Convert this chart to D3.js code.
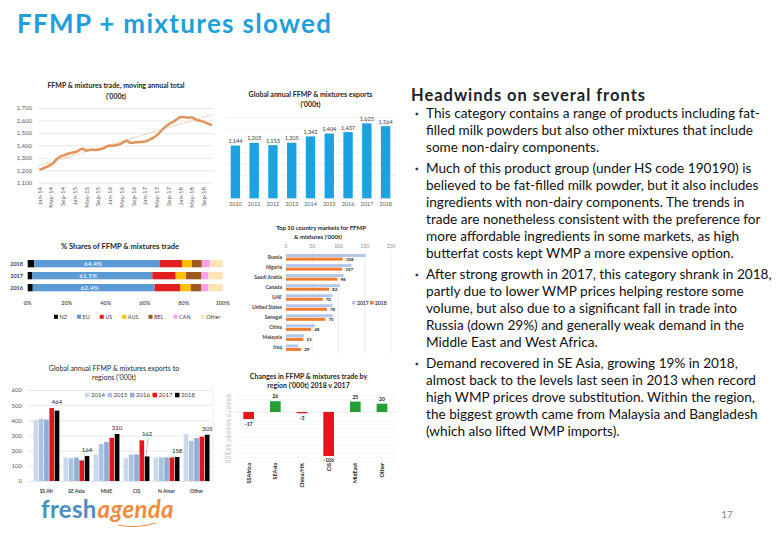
<!DOCTYPE html>
<html><head><meta charset="utf-8">
<script src="https://cdn.jsdelivr.net/npm/d3@7"></script>
<style>body{margin:0;background:#fff}svg{display:block}text{font-family:Lato,"Open Sans",sans-serif}</style>
</head><body><svg id="c" width="780" height="540"></svg>
<script>
// ---------- DATA ----------
const pageTitle = "FFMP + mixtures slowed";
// Chart 1: moving annual total, monthly Jan-14 .. Dec-18 ('000t)
const matStart = "Jan-14";
const matValues = [1205,1212,1222,1232,1245,1262,1290,1308,1318,1326,1334,1340,
  1345,1352,1366,1372,1358,1362,1366,1362,1364,1370,1378,1390,
  1398,1396,1400,1406,1414,1428,1436,1420,1420,1424,1426,1428,
  1430,1438,1450,1462,1478,1500,1525,1548,1566,1580,1594,1610,
  1625,1627,1626,1622,1626,1614,1602,1598,1590,1580,1570,1562];
const matTicks = ["Jan-14","May-14","Sep-14","Jan-15","May-15","Sep-15","Jan-16","May-16","Sep-16","Jan-17","May-17","Sep-17","Jan-18","May-18","Sep-18"];
const matYTicks = [1100,1200,1300,1400,1500,1600,1700];
const trendMonths = ["Jan-14","Dec-18"];
const trendValues = [1238,1646];
// Chart 2: global annual exports
const exportYears = ["2010","2011","2012","2013","2014","2015","2016","2017","2018"];
const exportValues = [1144,1203,1153,1205,1342,1404,1437,1625,1564];
// Chart 3: % shares
const shareYears = ["2018","2017","2016"];
const shareKeys = ["NZ","EU","US","AUS","BEL","CAN","Other"];
const shares2018 = [3.4,64.4,11.3,5.1,5.1,4.1,6.6];
const shares2017 = [2.4,61.5,12.0,5.3,7.9,3.6,7.3];
const shares2016 = [2.6,62.4,13.1,5.5,5.3,3.9,7.2];
const shareTicks = [0,20,40,60,80,100];
// Chart 4: top 10 markets
const topCountries = ["Russia","Nigeria","Saudi Arabia","Canada","UAE","United States","Senegal","China","Malaysia","Iraq"];
const top2017 = [152,125,110,103,89,89,89,55,34,23];
const top2018 = [108,107,98,82,70,78,75,48,33,29];
const topTicks = [0,50,100,150,200];
// Chart 5: exports to regions
const regionCats = ["SS Afr","SE Asia","MidE","CIS","N Amer","Other"];
const regionYears = ["2014","2015","2016","2017","2018"];
const reg2014 = [400,155,175,150,155,310];
const reg2015 = [410,150,245,175,155,265];
const reg2016 = [405,155,258,175,155,283];
const reg2017 = [481,136,285,268,155,292];
const reg2018 = [464,164,310,162,158,305];
const regYTicks = [0,100,200,300,400,500,600];
// Chart 6: changes 2018 v 2017
const changeCats = ["SSAfrica","SEAsia","China/HK","CIS","MidEast","Other"];
const changeValues = [-17,26,-3,-106,25,20];
// Text panel
const panelTitle = "Headwinds on several fronts";
const bullets = [
 ["This category contains a range of products including fat-","filled milk powders but also other mixtures that include","some non-dairy components."],
 ["Much of this product group (under HS code 190190) is","believed to be fat-filled milk powder, but it also includes","ingredients with non-dairy components. The trends in","trade are nonetheless consistent with the preference for","more affordable ingredients in some markets, as high","butterfat costs kept WMP a more expensive option."],
 ["After strong growth in 2017, this category shrank in 2018,","partly due to lower WMP prices helping restore some","volume, but also due to a significant fall in trade into","Russia (down 29%) and generally weak demand in the","Middle East and West Africa."],
 ["Demand recovered in SE Asia, growing 19% in 2018,","almost back to the levels last seen in 2013 when record","high WMP prices drove substitution. Within the region,","the biggest growth came from Malaysia and Bangladesh","(which also lifted WMP imports)."]
];
const pageNumber = "17";

// ---------- DRAW ----------
const svg = d3.select("#c");
function txt(g,x,y,s,o={}){
  return g.append("text").attr("x",x).attr("y",y).text(s)
    .attr("font-size",o.size||6).attr("font-weight",o.weight||400)
    .attr("fill",o.fill||"#404040").attr("text-anchor",o.anchor||"start")
    .attr("font-style",o.style||"normal");
}
function fitWidth(t,w){
  const n = t.text().length;
  const cur = t.node().getComputedTextLength();
  t.attr("letter-spacing",((w-cur)/(n-1)).toFixed(3));
}
const fmt = d3.format(",");
const parseM = d3.timeParse("%b-%y");

fitWidth(txt(svg,17,33,pageTitle,{size:26,weight:700,fill:"#1E9FDB"}),314);

// ---- Chart 1 ----
{
  const g = svg.append("g");
  const start = parseM(matStart);
  const pts = matValues.map((v,i)=>({d:d3.timeMonth.offset(start,i),v}));
  const x = d3.scaleTime().domain([parseM("Jan-14"),parseM("Sep-18")]).range([39.3,203.3]);
  const y = d3.scaleLinear().domain([1100,1700]).range([182.7,108]);
  const ya = g.append("g").attr("transform","translate(38,0)")
    .call(d3.axisLeft(y).tickValues(matYTicks).tickFormat(fmt).tickSize(-175).tickPadding(6));
  ya.select(".domain").remove();
  ya.selectAll("line").attr("stroke","#d9d9d9").attr("stroke-width",0.6);
  ya.selectAll("text").attr("font-size",6).attr("fill","#595959").attr("font-family","Lato,sans-serif");
  const xa = g.append("g").attr("transform","translate(0,184)")
    .call(d3.axisBottom(x).tickValues(matTicks.map(parseM)).tickFormat(d3.timeFormat("%b-%y")).tickSize(0));
  xa.select(".domain").remove();
  xa.selectAll("text").attr("transform","rotate(-90)").attr("text-anchor","end")
    .attr("x",-3).attr("y",0).attr("dy","0.35em").attr("font-size",6).attr("fill","#595959").attr("font-family","Lato,sans-serif");
  const trend = trendMonths.map((m,i)=>({d:parseM(m),v:trendValues[i]}));
  g.append("path").datum(trend).attr("d",d3.line().x(d=>x(d.d)).y(d=>y(d.v)))
    .attr("fill","none").attr("stroke","#E2965A").attr("stroke-width",0.8).attr("stroke-dasharray","1.2,1.4");
  g.append("path").datum(pts).attr("d",d3.line().x(d=>x(d.d)).y(d=>y(d.v)).curve(d3.curveMonotoneX))
    .attr("fill","none").attr("stroke","#E0935A").attr("stroke-width",2.5).attr("stroke-linejoin","round");
  txt(g,116,88,"FFMP & mixtures trade, moving annual total",{size:7,weight:700,fill:"#262626",anchor:"middle"});
  txt(g,116,99,"('000t)",{size:7,weight:700,fill:"#262626",anchor:"middle"});
}

// ---- Chart 2 ----
{
  const g = svg.append("g");
  const x = d3.scaleBand().domain(exportYears).range([226,395]).paddingInner(0.5).paddingOuter(0.25);
  const y = d3.scaleLinear().domain([0,1800]).range([198.3,115.3]);
  g.selectAll(".gl").data(d3.range(0,1751,250)).join("line")
    .attr("x1",226).attr("x2",396).attr("y1",d=>y(d)).attr("y2",d=>y(d))
    .attr("stroke","#e8e8e8").attr("stroke-width",0.6);
  g.selectAll(".b").data(exportValues).join("rect")
    .attr("x",(d,i)=>x(exportYears[i])).attr("width",x.bandwidth())
    .attr("y",d=>y(d)).attr("height",d=>y(0)-y(d)).attr("fill","#1CA2E2");
  g.selectAll(".vl").data(exportValues).join("text")
    .attr("x",(d,i)=>x(exportYears[i])+x.bandwidth()/2).attr("y",d=>y(d)-2.5)
    .attr("text-anchor","middle").attr("font-size",5.5).attr("fill","#404040").text(d=>fmt(d));
  g.selectAll(".xl").data(exportYears).join("text")
    .attr("x",d=>x(d)+x.bandwidth()/2).attr("y",206).attr("text-anchor","middle")
    .attr("font-size",5.5).attr("fill","#595959").text(d=>d);
  txt(g,310.5,96.5,"Global annual FFMP & mixtures exports",{size:7,weight:700,fill:"#262626",anchor:"middle"});
  txt(g,310.5,106.5,"('000t)",{size:7,weight:700,fill:"#262626",anchor:"middle"});
}

// ---- Chart 3 ----
{
  const g = svg.append("g");
  const colors = {NZ:"#000000",EU:"#5B9BD5",US:"#E31E1E",AUS:"#FFC000",BEL:"#9E5A1E",CAN:"#F9A0F0",Other:"#FCE4B4"};
  const rowsData = [shares2018,shares2017,shares2016].map((arr,i)=>{
    const o={year:shareYears[i]}; shareKeys.forEach((k,j)=>o[k]=arr[j]); return o;});
  const stack = d3.stack().keys(shareKeys)(rowsData);
  const x = d3.scaleLinear().domain([0,100]).range([27.7,222.7]);
  const y = d3.scaleBand().domain(shareYears).range([257.6,293.7]).paddingInner(0.39).paddingOuter(0.2);
  g.selectAll(".s").data(stack).join("g").attr("fill",d=>colors[d.key])
    .selectAll("rect").data(d=>d).join("rect")
    .attr("x",d=>x(d[0])).attr("width",d=>x(d[1])-x(d[0]))
    .attr("y",d=>y(d.data.year)).attr("height",y.bandwidth());
  const eu = stack.find(s=>s.key==="EU");
  g.selectAll(".eul").data(eu).join("text")
    .attr("x",d=>x((d[0]+d[1])/2)-4).attr("y",d=>y(d.data.year)+y.bandwidth()/2)
    .attr("dy","0.36em").attr("text-anchor","middle").attr("font-size",6.5).attr("fill","#ffffff")
    .text(d=>d3.format(".1f")(d.data.EU)+"%");
  g.selectAll(".yl").data(shareYears).join("text")
    .attr("x",23).attr("y",d=>y(d)+y.bandwidth()/2).attr("dy","0.36em").attr("text-anchor","end")
    .attr("font-size",5.5).attr("font-weight",700).attr("fill","#404040").text(d=>d);
  g.selectAll(".xt").data(shareTicks).join("text")
    .attr("x",d=>x(d)).attr("y",305).attr("text-anchor","middle")
    .attr("font-size",5.5).attr("font-weight",700).attr("fill","#595959").text(d=>d+"%");
  let lx = 54;
  shareKeys.forEach(k=>{
    g.append("rect").attr("x",lx).attr("y",314.8).attr("width",4).attr("height",4).attr("fill",colors[k]);
    const t = txt(g,lx+5.5,318.6,k,{size:5.5,fill:"#404040"});
    lx += 5.5 + t.node().getComputedTextLength() + 10;
  });
  txt(g,120,248.5,"% Shares of FFMP & mixtures trade",{size:7.5,weight:700,fill:"#262626",anchor:"middle"});
}

// ---- Chart 4 ----
{
  const g = svg.append("g");
  const x = d3.scaleLinear().domain([0,200]).range([286,391]);
  const y = d3.scaleBand().domain(topCountries).range([252.3,352.7]);
  const yi = d3.scaleBand().domain(["2017","2018"]).range([0,y.bandwidth()]).paddingInner(0.15).paddingOuter(0.5);
  g.selectAll(".gl").data(topTicks).join("line")
    .attr("x1",d=>x(d)).attr("x2",d=>x(d)).attr("y1",250).attr("y2",353)
    .attr("stroke","#e3e3e3").attr("stroke-width",0.6);
  g.selectAll(".tt").data(topTicks).join("text")
    .attr("x",d=>x(d)).attr("y",248).attr("text-anchor","middle")
    .attr("font-size",5).attr("fill","#8c8c8c").text(d=>d);
  g.selectAll(".b17").data(top2017).join("rect")
    .attr("x",x(0)).attr("width",d=>x(d)-x(0))
    .attr("y",(d,i)=>y(topCountries[i])+yi("2017")).attr("height",yi.bandwidth()).attr("fill","#B4C6E7");
  g.selectAll(".b18").data(top2018).join("rect")
    .attr("x",x(0)).attr("width",d=>x(d)-x(0))
    .attr("y",(d,i)=>y(topCountries[i])+yi("2018")).attr("height",yi.bandwidth()).attr("fill","#ED7D31");
  g.selectAll(".v18").data(top2018).join("text")
    .attr("x",d=>x(d)+3).attr("y",(d,i)=>y(topCountries[i])+yi("2018")+yi.bandwidth()/2)
    .attr("dy","0.36em").attr("font-size",4.5).attr("font-weight",700).attr("fill","#262626").text(d=>d);
  g.selectAll(".cl").data(topCountries).join("text")
    .attr("x",282).attr("y",d=>y(d)+y.bandwidth()/2).attr("dy","0.36em").attr("text-anchor","end")
    .attr("font-size",5).attr("font-weight",700).attr("fill","#404040").text(d=>d);
  [["2017","#B4C6E7",352],["2018","#ED7D31",370]].forEach(([k,c,lx])=>{
    g.append("rect").attr("x",lx).attr("y",301).attr("width",3.5).attr("height",3.5).attr("fill",c);
    txt(g,lx+5,304.5,k,{size:5,fill:"#404040",weight:700});
  });
  txt(g,321,230,"Top 10 country markets for FFMP",{size:6,weight:700,fill:"#262626",anchor:"middle"});
  txt(g,318,238.5,"& mixtures ('000t)",{size:6,weight:700,fill:"#262626",anchor:"middle"});
}

// ---- Chart 5 ----
{
  const g = svg.append("g");
  const colors = {"2014":"#CAD8EC","2015":"#ABC3E1","2016":"#8EAED6","2017":"#E3141C","2018":"#000000"};
  const series = [reg2014,reg2015,reg2016,reg2017,reg2018];
  const y = d3.scaleLinear().domain([0,600]).range([481,390]);
  const x = d3.scaleBand().domain(regionCats).range([32,211]).paddingInner(0.14).paddingOuter(0.05);
  const xi = d3.scaleBand().domain(regionYears).range([0,x.bandwidth()]).paddingInner(0.12);
  const ya = g.append("g").attr("transform","translate(28,0)")
    .call(d3.axisLeft(y).tickValues(regYTicks).tickSize(-184).tickPadding(6));
  ya.select(".domain").remove();
  ya.selectAll("line").attr("stroke","#d9d9d9").attr("stroke-width",0.6);
  ya.selectAll("text").attr("font-size",6).attr("fill","#595959").attr("font-family","Lato,sans-serif");
  regionYears.forEach((yr,j)=>{
    g.selectAll(".b"+yr).data(series[j]).join("rect")
      .attr("x",(d,i)=>x(regionCats[i])+xi(yr)).attr("width",xi.bandwidth())
      .attr("y",d=>y(d)).attr("height",d=>y(0)-y(d)).attr("fill",colors[yr]);
  });
  reg2018.forEach((v,i)=>{
    const cx = x(regionCats[i])+xi("2018")+xi.bandwidth()/2;
    const top18 = y(v), top17 = y(reg2017[i]);
    const ly = Math.min(top18,top17)-4;
    if (top18-ly>8) {
      g.append("line").attr("x1",cx+1).attr("x2",cx-1).attr("y1",ly+1.5).attr("y2",top18-1)
        .attr("stroke","#7f7f7f").attr("stroke-width",0.5);
    }
    txt(g,cx,ly,fmt(v),{size:6,fill:"#262626",anchor:"middle"});
  });
  g.selectAll(".xl").data(regionCats).join("text")
    .attr("x",d=>x(d)+x.bandwidth()/2).attr("y",493).attr("text-anchor","middle")
    .attr("font-size",5).attr("font-weight",700).attr("fill","#404040").text(d=>d);
  regionYears.forEach((yr,j)=>{
    const lx = 85 + j*22.5;
    g.append("rect").attr("x",lx).attr("y",392.8).attr("width",4.5).attr("height",4.5).attr("fill",colors[yr]);
    txt(g,lx+6,397.2,yr,{size:6,fill:"#404040"});
  });
  txt(g,114,370.5,"Global annual FFMP & mixtures exports to",{size:7,fill:"#262626",anchor:"middle"});
  txt(g,114,380,"regions ('000t)",{size:7,fill:"#262626",anchor:"middle"});
}

// ---- Chart 6 ----
{
  const g = svg.append("g");
  const y = d3.scaleLinear().domain([-120,40]).range([461.8,395.4]);
  const x = d3.scaleBand().domain(changeCats).range([235.35,395.3]).paddingInner(0.6).paddingOuter(0.3);
  const ticks = d3.range(-120,41,10);
  g.selectAll(".gl").data(ticks).join("line")
    .attr("x1",235).attr("x2",396).attr("y1",d=>y(d)).attr("y2",d=>y(d))
    .attr("stroke",d=>d===0?"#cfcfcf":"#efefef").attr("stroke-width",0.5);
  g.selectAll(".tl").data(ticks).join("text")
    .attr("x",231).attr("y",d=>y(d)).attr("dy","0.35em").attr("text-anchor","end")
    .attr("font-size",3.8).attr("fill","#a6a6a6").text(d=>d);
  g.selectAll(".b").data(changeValues).join("rect")
    .attr("x",(d,i)=>x(changeCats[i])).attr("width",x.bandwidth())
    .attr("y",d=>y(Math.max(0,d))).attr("height",d=>Math.abs(y(d)-y(0)))
    .attr("fill",d=>d<0?"#E8141C":"#22A034");
  g.selectAll(".vl").data(changeValues).join("text")
    .attr("x",(d,i)=>x(changeCats[i])+x.bandwidth()/2).attr("y",d=>d<0?y(d)+6.5:y(d)-3)
    .attr("text-anchor","middle").attr("font-size",5).attr("font-weight",700).attr("fill","#262626").text(d=>d);
  g.selectAll(".xl").data(changeCats).join("text")
    .attr("transform",d=>`translate(${x(d)+x.bandwidth()/2},463) rotate(-90)`)
    .attr("dy","0.35em").attr("text-anchor","end")
    .attr("font-size",5.5).attr("font-weight",700).attr("fill","#262626").text(d=>d);
  g.append("line").attr("x1",213).attr("x2",213).attr("y1",388).attr("y2",482)
    .attr("stroke","#bfbfbf").attr("stroke-width",0.6).attr("stroke-dasharray","1,1.5");
  txt(g,308.5,379,"Changes in FFMP & mixtures trade by",{size:7,weight:700,fill:"#262626",anchor:"middle"});
  txt(g,308.5,387.5,"region ('000t) 2018 v 2017",{size:7,weight:700,fill:"#262626",anchor:"middle"});
}

// ---- Text panel ----
{
  const g = svg.append("g");
  fitWidth(txt(g,411,101,panelTitle,{size:16.5,weight:700,fill:"#222222"}),234);
  const probe = txt(g,0,-50,bullets[1][3],{size:12,fill:"#111111"});
  const fs = 12*335/probe.node().getComputedTextLength();
  probe.remove();
  let yy = 118;
  bullets.forEach((lines,bi)=>{
    if (bi>0) yy += 21-17;
    txt(g,415,yy-1,"\u25AA",{size:9,fill:"#333333"});
    lines.forEach(l=>{ txt(g,426,yy,l,{size:fs,fill:"#111111"}); yy += 17; });
  });
}

// ---- Footer ----
{
  txt(svg,727,518,pageNumber,{size:10,fill:"#7f7f7f",anchor:"middle"});
  const t = svg.append("text").attr("x",41).attr("y",518).attr("font-size",24).attr("font-weight",700).attr("letter-spacing",0.3);
  t.append("tspan").attr("fill","#4C8EC0").text("fresh");
  t.append("tspan").attr("fill","#F08C3C").attr("font-style","italic").attr("dx",1).text("agenda");
  svg.append("path").attr("d","M118,525 Q136,529 156,523").attr("fill","none")
    .attr("stroke","#F08C3C").attr("stroke-width",1);
}
</script></body></html>
